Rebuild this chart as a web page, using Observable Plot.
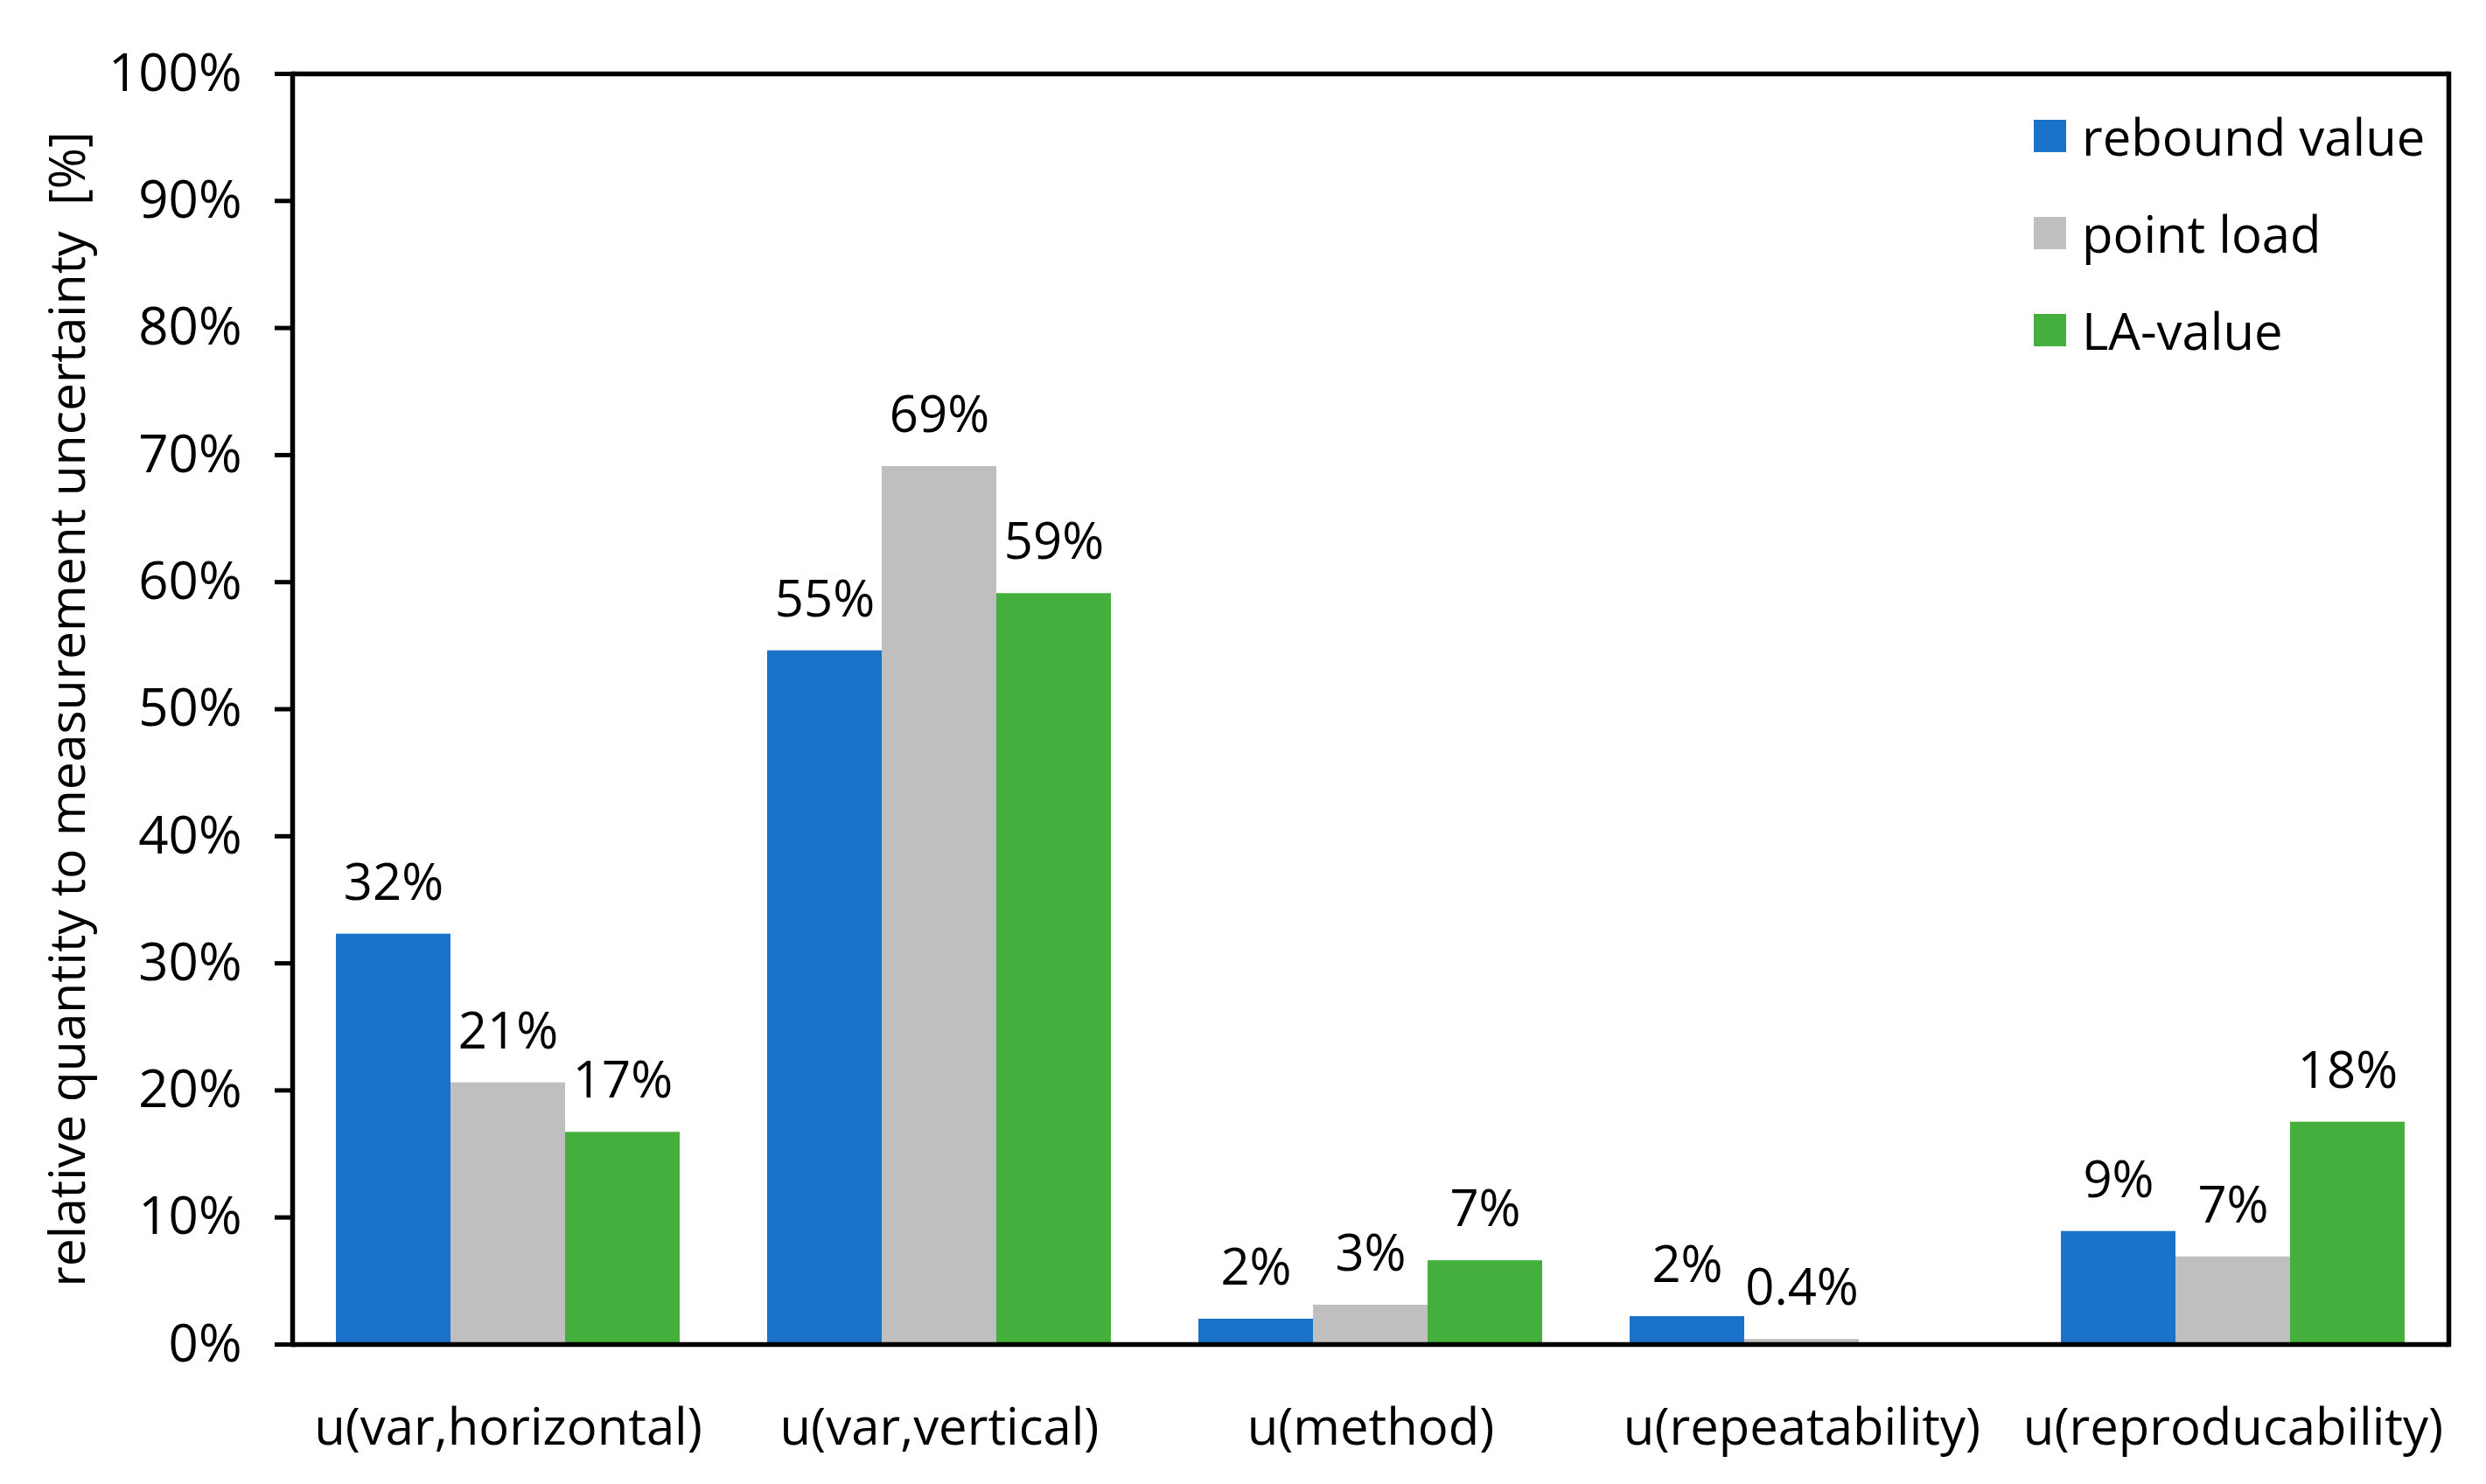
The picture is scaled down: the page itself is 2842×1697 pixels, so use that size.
<!DOCTYPE html>
<html>
<head>
<meta charset="utf-8">
<script src="https://cdn.jsdelivr.net/npm/d3@7"></script>
<script src="https://cdn.jsdelivr.net/npm/@observablehq/plot@0.6"></script>
<style>
  html, body { margin: 0; padding: 0; background: #fff; }
  #wrap { position: relative; width: 2842px; height: 1697px; font-family: "Open Sans", sans-serif; color: #000; }
  #legend { position: absolute; left: 2325px; top: 100px; }
  .row { display: flex; align-items: center; height: 111px; }
  .sw { width: 37px; height: 37px; margin-right: 18px; }
  .lab { font-size: 58px; line-height: 1; white-space: nowrap; }
</style>
</head>
<body>
<div id="wrap"><div id="chart"></div><div id="legend"></div></div>
<script>
const categories = ["u(var,horizontal)", "u(var,vertical)", "u(method)", "u(repeatability)", "u(reproducability)"];
const series = ["rebound value", "point load", "LA-value"];
const reboundValues = [32.3, 54.6, 2.0, 2.2, 8.9];
const pointLoadValues = [20.6, 69.1, 3.1, 0.4, 6.9];
const laValues = [16.7, 59.1, 6.6, 0, 17.5];
const reboundLabels = ["32%", "55%", "2%", "2%", "9%"];
const pointLoadLabels = ["21%", "69%", "3%", "0.4%", "7%"];
const laLabels = ["17%", "59%", "7%", "", "18%"];
const colors = ["#1a73c8", "#bfbfbf", "#44af3c"];
const yTicks = [0, 10, 20, 30, 40, 50, 60, 70, 80, 90, 100];
const yLabel = "relative quantity to measurement uncertainty  [%]";

const valueSets = [reboundValues, pointLoadValues, laValues];
const labelSets = [reboundLabels, pointLoadLabels, laLabels];
const rows = [];
categories.forEach((c, i) => {
  series.forEach((s, j) => {
    rows.push({category: c, series: s, value: valueSets[j][i], label: labelSets[j][i]});
  });
});

const chart = Plot.plot({
  width: 2842,
  height: 1697,
  marginLeft: 332,
  marginRight: 42,
  marginTop: 84,
  marginBottom: 160,
  style: {fontFamily: "'Open Sans', sans-serif", fontSize: "58px", color: "#000", background: "#fff"},
  fx: {domain: categories, paddingInner: 0, paddingOuter: 0, label: null, axis: null},
  x: {domain: series, paddingInner: 0, paddingOuter: 0.38, axis: null},
  y: {domain: [0, 100], label: null, axis: null},
  color: {domain: series, range: colors},
  marks: [
    Plot.barY(rows, {fx: "category", x: "series", y: "value", fill: "series"}),
    Plot.text(rows.filter(d => d.label !== ""), {fx: "category", x: "series", y: "value", text: "label", dy: -58, fontSize: 58, fill: "#000"}),
    Plot.ruleY([0, 100], {stroke: "#000", strokeWidth: 5.5}),
    Plot.axisY({ticks: yTicks, tickFormat: d => d + "%", tickSize: 20, tickPadding: 38, strokeWidth: 5, fontSize: 60, label: null}),
    Plot.axisY({ticks: [], tickSize: 0, fontSize: 57, label: yLabel, labelAnchor: "center", labelArrow: "none", labelOffset: 278}),
    Plot.axisFx({anchor: "bottom", tickSize: 0, tickPadding: 73, label: null, fontSize: 58}),
    Plot.frame({anchor: "left", facetAnchor: "left", strokeWidth: 5.5}),
    Plot.frame({anchor: "right", facetAnchor: "right", strokeWidth: 5.5})
  ]
});
document.getElementById("chart").appendChild(chart);

const legend = document.getElementById("legend");
series.forEach((s, j) => {
  const row = document.createElement("div");
  row.className = "row";
  const sw = document.createElement("div");
  sw.className = "sw";
  sw.style.background = colors[j];
  const lab = document.createElement("span");
  lab.className = "lab";
  lab.textContent = s;
  row.appendChild(sw);
  row.appendChild(lab);
  legend.appendChild(row);
});
</script>
</body>
</html>
